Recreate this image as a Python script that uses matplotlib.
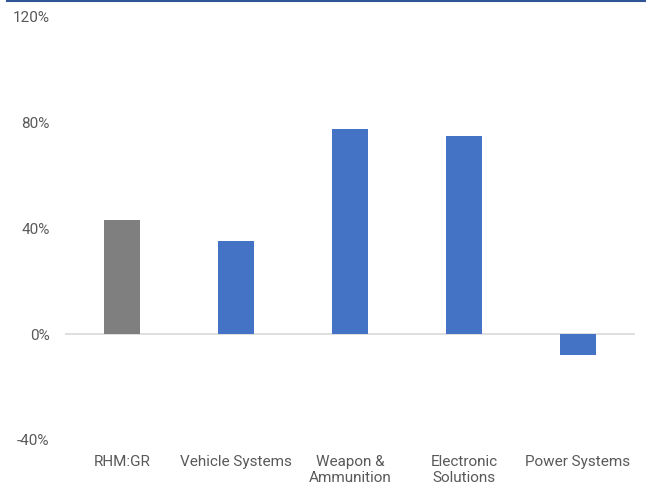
import matplotlib
matplotlib.use('Agg')
import matplotlib.pyplot as plt
from matplotlib.lines import Line2D
from matplotlib.ticker import FuncFormatter

categories = ['RHM:GR', 'Vehicle Systems', 'Weapon &\nAmmunition', 'Electronic\nSolutions', 'Power Systems']
values = [43.1, 35.2, 77.8, 75.1, -7.8]
colors = ['#7f7f7f', '#4472c4', '#4472c4', '#4472c4', '#4472c4']
yticks = [-40, 0, 40, 80, 120]

plt.rcParams['font.family'] = ['Roboto', 'DejaVu Sans']
text_color = '#595959'

fig = plt.figure(figsize=(6.46, 4.88), dpi=100)
ax = fig.add_axes([0.1006, 0.0984, 0.8824, 0.8668])

x = range(len(categories))
ax.bar(x, values, width=0.32, color=colors, zorder=3)
ax.axhline(0, color='#d9d9d9', linewidth=1.2, zorder=2)

ax.set_xlim(-0.5, len(categories) - 0.5)
ax.set_ylim(-40, 120)
ax.set_yticks(yticks)
ax.yaxis.set_major_formatter(FuncFormatter(lambda v, p: f'{v:.0f}%'))
ax.set_xticks(list(x))
ax.set_xticklabels(categories, va='top', linespacing=1.2)

for s in ax.spines.values():
    s.set_visible(False)
ax.tick_params(axis='both', length=0, labelsize=11, colors=text_color)
ax.tick_params(axis='y', pad=11)
ax.tick_params(axis='x', pad=11)

# thin rule along the top edge
fig.add_artist(Line2D([0.011, 1.0], [0.998, 0.998], transform=fig.transFigure,
                      color='#2f5597', linewidth=1.5))

fig.savefig('out.png', dpi=100)
